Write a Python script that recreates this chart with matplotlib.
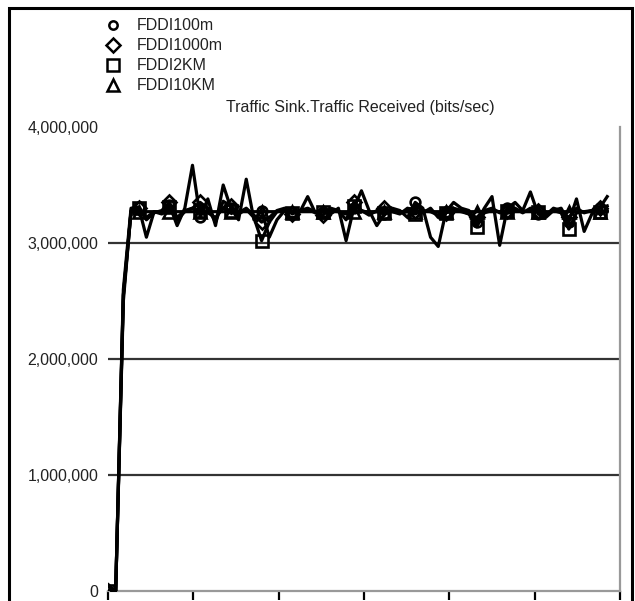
import matplotlib
matplotlib.use("Agg")
import matplotlib.pyplot as plt
from matplotlib.lines import Line2D
from matplotlib.patches import Rectangle
from matplotlib.ticker import FuncFormatter

plt.rcParams['font.family'] = ['Liberation Sans', 'DejaVu Sans']

# Sample times (minutes) and received traffic (Mbit/s) per link length
time_min = [0.00, 0.09, 0.18, 0.27, 0.36, 0.45, 0.54, 0.63, 0.72, 0.81,
            0.90, 0.99, 1.08, 1.17, 1.26, 1.35, 1.44, 1.53, 1.62, 1.71,
            1.80, 1.89, 1.98, 2.07, 2.16, 2.25, 2.34, 2.43, 2.52, 2.61,
            2.70, 2.79, 2.88, 2.97, 3.06, 3.15, 3.24, 3.33, 3.42, 3.51,
            3.60, 3.69, 3.78, 3.87, 3.96, 4.05, 4.14, 4.23, 4.32, 4.41,
            4.50, 4.59, 4.68, 4.77, 4.86, 4.95, 5.04, 5.13, 5.22, 5.31,
            5.40, 5.49, 5.58, 5.67, 5.76, 5.85]

fddi_100m = [0.00, 0.00, 2.60, 3.30, 3.31, 3.05, 3.27, 3.25, 3.33, 3.15,
             3.30, 3.67, 3.22, 3.38, 3.15, 3.50, 3.30, 3.20, 3.55, 3.20,
             3.28, 3.05, 3.20, 3.28, 3.27, 3.27, 3.40, 3.26, 3.27, 3.25,
             3.30, 3.02, 3.30, 3.45, 3.28, 3.15, 3.25, 3.30, 3.28, 3.22,
             3.35, 3.30, 3.05, 2.97, 3.27, 3.35, 3.30, 3.28, 3.18, 3.30,
             3.40, 2.98, 3.30, 3.35, 3.28, 3.44, 3.25, 3.22, 3.28, 3.30,
             3.18, 3.38, 3.10, 3.25, 3.30, 3.40]

fddi_1000m = [0.00, 0.00, 2.50, 3.28, 3.30, 3.20, 3.26, 3.28, 3.35, 3.22,
              3.28, 3.30, 3.35, 3.30, 3.18, 3.36, 3.32, 3.26, 3.30, 3.24,
              3.18, 3.22, 3.28, 3.30, 3.25, 3.28, 3.30, 3.27, 3.24, 3.30,
              3.28, 3.20, 3.35, 3.28, 3.24, 3.28, 3.30, 3.27, 3.25, 3.30,
              3.28, 3.26, 3.30, 3.22, 3.26, 3.30, 3.28, 3.25, 3.22, 3.28,
              3.30, 3.26, 3.28, 3.30, 3.26, 3.30, 3.28, 3.24, 3.30, 3.28,
              3.22, 3.30, 3.26, 3.28, 3.30, 3.32]

fddi_2km = [0.00, 0.00, 2.55, 3.27, 3.30, 3.22, 3.27, 3.26, 3.31, 3.20,
            3.27, 3.30, 3.28, 3.26, 3.22, 3.30, 3.28, 3.25, 3.29, 3.22,
            3.02, 3.18, 3.27, 3.28, 3.26, 3.27, 3.29, 3.26, 3.27, 3.28,
            3.27, 3.25, 3.32, 3.28, 3.26, 3.27, 3.26, 3.28, 3.26, 3.27,
            3.25, 3.28, 3.27, 3.24, 3.26, 3.28, 3.27, 3.25, 3.14, 3.26,
            3.28, 3.27, 3.28, 3.29, 3.27, 3.28, 3.27, 3.25, 3.28, 3.26,
            3.12, 3.26, 3.27, 3.28, 3.27, 3.28]

fddi_10km = [0.00, 0.00, 2.55, 3.27, 3.27, 3.27, 3.27, 3.27, 3.27, 3.27,
             3.27, 3.27, 3.27, 3.27, 3.27, 3.27, 3.27, 3.27, 3.27, 3.27,
             3.27, 3.27, 3.27, 3.27, 3.27, 3.27, 3.27, 3.27, 3.27, 3.27,
             3.27, 3.27, 3.27, 3.27, 3.27, 3.27, 3.27, 3.27, 3.27, 3.27,
             3.27, 3.27, 3.27, 3.27, 3.27, 3.27, 3.27, 3.27, 3.27, 3.27,
             3.27, 3.27, 3.27, 3.27, 3.27, 3.27, 3.27, 3.27, 3.27, 3.27,
             3.27, 3.27, 3.27, 3.27, 3.27, 3.27]

series_labels = ['FDDI100m', 'FDDI1000m', 'FDDI2KM', 'FDDI10KM']
series_values = [fddi_100m, fddi_1000m, fddi_2km, fddi_10km]
series_markers = ['o', 'D', 's', '^']
y_ticks = [0, 1_000_000, 2_000_000, 3_000_000, 4_000_000]
x_ticks = [0, 1, 2, 3, 4, 5, 6]
title = 'Traffic Sink.Traffic Received (bits/sec)'

W, H = 635, 601
fig = plt.figure(figsize=(W / 100, H / 100), dpi=100)

def fx(px):
    return px / W

def fy(py):
    return 1 - py / H

ax = fig.add_axes([fx(108), fy(591), fx(620) - fx(108), fy(127) - fy(591)])

# Reference lines at each million
for v in y_ticks[1:4]:
    ax.axhline(v, color='#333333', lw=1.6, zorder=1)

marker_sizes = [7, 7, 9, 8]
for vals, mk, ms in zip(series_values, series_markers, marker_sizes):
    bits = [v * 1_000_000 for v in vals]
    ax.plot(time_min, bits, color='black', lw=2.3, marker=mk, ms=ms,
            markevery=4, mfc='none', mec='black', mew=1.9, zorder=3)

ax.set_xlim(0, 6)
ax.set_ylim(0, 4_000_000)
ax.set_xticks(x_ticks)
ax.set_xticklabels([])
ax.set_yticks(y_ticks)
ax.yaxis.set_major_formatter(FuncFormatter(lambda v, p: f'{int(v):,}'))
ax.tick_params(axis='y', length=0, pad=7, labelsize=11.5, labelcolor='#222222')
ax.tick_params(axis='x', direction='out', length=6.5, width=1.6, color='black')
for side in ('left', 'top'):
    ax.spines[side].set_visible(False)
for side in ('right', 'bottom'):
    ax.spines[side].set_color('#999999')
    ax.spines[side].set_linewidth(1.6)

# Legend rows
legend_rows = [25, 45, 65, 85]
legend_ms = [6, 7, 8, 8]
for lab, mk, ms, py in zip(series_labels, series_markers, legend_ms, legend_rows):
    fig.add_artist(Line2D([fx(113)], [fy(py)], marker=mk, ms=ms, mfc='none',
                          mec='black', mew=1.8, ls='none',
                          transform=fig.transFigure))
    fig.text(fx(137), fy(py), lab, ha='left', va='center', fontsize=11.5,
             color='#222222')

fig.text(fx(360), fy(107), title, ha='center', va='center', fontsize=11.5,
         color='#222222')

# Outer frame
fig.add_artist(Rectangle((fx(9), -0.1), fx(632) - fx(9), fy(8) + 0.1,
                         transform=fig.transFigure, fill=False,
                         edgecolor='black', lw=2.2))

fig.savefig('out.png', dpi=100)
